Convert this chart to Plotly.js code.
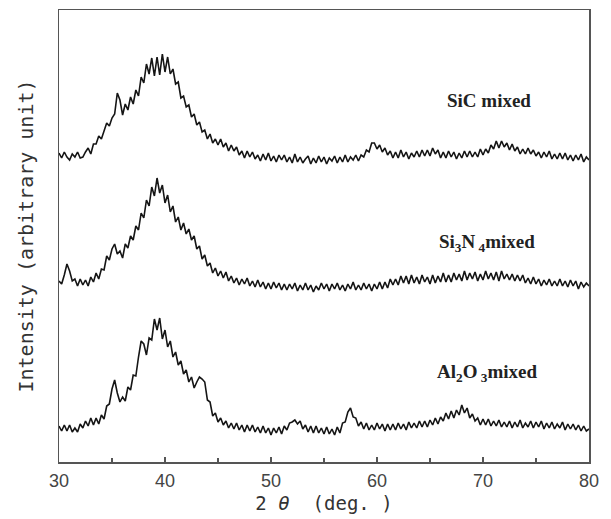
<!DOCTYPE html>
<html>
<head>
<meta charset="utf-8">
<script src="https://cdn.plot.ly/plotly-3.0.1.min.js"></script>
<style>html,body{margin:0;padding:0;background:#fff;}#chart{width:611px;height:519px;}</style>
</head>
<body>
<div id="chart"></div>
<script>
// 2θ positions (deg.)
const twoTheta = [
30,30.25,30.5,30.75,31,31.25,31.5,31.75,32,32.25,32.5,32.75,33,33.25,33.5,33.75,34,34.25,34.5,34.75,
35,35.25,35.5,35.75,36,36.25,36.5,36.75,37,37.25,37.5,37.75,38,38.25,38.5,38.75,39,39.25,39.5,39.75,
40,40.25,40.5,40.75,41,41.25,41.5,41.75,42,42.25,42.5,42.75,43,43.25,43.5,43.75,44,44.25,44.5,44.75,
45,45.25,45.5,45.75,46,46.25,46.5,46.75,47,47.25,47.5,47.75,48,48.25,48.5,48.75,49,49.25,49.5,49.75,
50,50.25,50.5,50.75,51,51.25,51.5,51.75,52,52.25,52.5,52.75,53,53.25,53.5,53.75,54,54.25,54.5,54.75,
55,55.25,55.5,55.75,56,56.25,56.5,56.75,57,57.25,57.5,57.75,58,58.25,58.5,58.75,59,59.25,59.5,59.75,
60,60.25,60.5,60.75,61,61.25,61.5,61.75,62,62.25,62.5,62.75,63,63.25,63.5,63.75,64,64.25,64.5,64.75,
65,65.25,65.5,65.75,66,66.25,66.5,66.75,67,67.25,67.5,67.75,68,68.25,68.5,68.75,69,69.25,69.5,69.75,
70,70.25,70.5,70.75,71,71.25,71.5,71.75,72,72.25,72.5,72.75,73,73.25,73.5,73.75,74,74.25,74.5,74.75,
75,75.25,75.5,75.75,76,76.25,76.5,76.75,77,77.25,77.5,77.75,78,78.25,78.5,78.75,79,79.25,79.5,79.75,
80];

// Intensity (arbitrary unit), curves as stacked in the figure
const sicMixed = [
309,304,310,305,302,308,305,310,304,305,310,314,308,318,318,326,323,331,339,336,
344,348,369,362,347,358,352,365,358,372,366,385,379,398,388,404,386,405,387,408,
390,405,388,393,378,380,364,366,355,357,345,348,337,340,330,332,323,328,319,323,
317,323,315,319,311,317,311,315,307,311,304,311,305,310,303,307,301,308,302,309,
301,306,300,307,302,307,300,305,299,308,300,305,299,303,306,298,304,299,306,300,
305,298,304,301,306,299,305,300,307,300,305,302,307,301,307,305,312,310,319,319,
313,317,310,314,307,311,304,310,304,312,305,310,303,309,305,311,305,312,306,312,
306,314,308,312,304,310,304,311,305,310,303,309,304,311,305,311,305,310,305,313,
307,313,309,317,313,321,314,321,315,319,312,318,311,315,308,313,308,314,308,312,
306,310,304,310,305,311,303,308,303,309,303,309,302,307,301,307,302,308,300,305,
302];

const si3n4Mixed = [
181,178,187,198,191,181,183,176,183,177,182,176,185,180,189,183,193,192,206,202,
213,218,208,211,204,218,214,226,222,236,232,249,244,262,256,275,266,284,269,277,
259,267,250,256,240,245,232,239,228,233,222,226,213,216,203,207,196,199,189,194,
186,191,184,190,181,186,179,184,177,183,178,184,176,181,175,182,175,180,173,179,
173,180,174,179,172,178,172,178,173,179,171,177,172,179,172,177,170,176,172,179,
173,178,171,178,173,179,172,177,171,178,173,180,172,177,172,179,173,178,171,178,
173,180,173,180,174,183,177,183,177,186,179,186,178,187,179,185,178,187,180,185,
178,187,179,186,180,189,180,187,180,189,182,188,181,191,182,189,183,190,181,188,
182,191,183,189,182,190,181,191,183,188,182,188,181,187,181,187,179,184,178,185,
178,183,176,182,177,183,176,181,176,183,176,181,175,182,176,181,173,180,175,179,
176];

const al2o3Mixed = [
36,31,37,31,37,30,34,30,38,34,41,36,44,37,44,38,47,43,56,58,
73,82,69,60,65,61,75,72,87,86,105,121,118,107,124,122,143,132,144,123,
132,115,121,105,110,97,101,88,92,80,85,74,80,85,83,80,62,60,46,49,
40,44,37,41,34,39,33,39,32,37,30,37,31,37,30,35,29,36,29,34,
27,34,29,35,28,36,32,39,40,42,38,41,33,37,30,36,29,36,29,34,
28,35,28,33,27,35,29,39,40,50,54,45,44,36,40,33,39,32,37,32,
39,33,38,31,38,32,38,32,39,33,38,32,40,34,39,34,41,35,41,35,
42,37,44,38,45,41,49,43,51,44,52,47,57,49,54,44,48,41,44,37,
43,37,43,36,41,36,42,35,40,35,41,34,40,35,42,34,39,35,41,34,
40,35,41,33,39,34,40,33,38,34,40,32,38,33,38,32,37,31,36,31,
33];

const xTickVals = [30, 40, 50, 60, 70, 80];
const xTickText = ['30', '40', '50', '60', '70', '80'];
const curveLabels = ['SiC mixed', 'Si<sub>3</sub>N<sub> 4</sub>mixed', 'Al<sub>2</sub>O<sub> 3</sub>mixed'];

const lineStyle = {color: '#151515', width: 1.6};
const traces = [
  {x: twoTheta, y: sicMixed, type: 'scatter', mode: 'lines', line: lineStyle, name: 'SiC mixed'},
  {x: twoTheta, y: si3n4Mixed, type: 'scatter', mode: 'lines', line: lineStyle, name: 'Si3N4 mixed'},
  {x: twoTheta, y: al2o3Mixed, type: 'scatter', mode: 'lines', line: lineStyle, name: 'Al2O3 mixed'}
];

const labelFont = {family: 'Liberation Serif, serif', size: 19, color: '#222222', weight: 'bold'};
const layout = {
  width: 611, height: 519,
  margin: {l: 59, r: 22, t: 10, b: 57},
  paper_bgcolor: '#ffffff', plot_bgcolor: '#ffffff',
  showlegend: false,
  xaxis: {
    range: [30, 80], showgrid: false, zeroline: false,
    showline: true, mirror: true, linecolor: '#555555', linewidth: 1.5,
    tickmode: 'array', tickvals: xTickVals, ticktext: xTickText,
    ticks: 'inside', ticklen: 5, tickwidth: 1.2, tickcolor: '#555555',
    minor: {dtick: 5, tick0: 30, ticks: 'inside', ticklen: 4, tickcolor: '#555555', showgrid: false},
    ticklabelstandoff: 2,
    tickfont: {family: 'Liberation Sans, Arial, sans-serif', size: 18, color: '#444444'},
    title: {text: '2\u00a0<i>\u03b8</i>\u00a0\u00a0(deg.\u00a0)', standoff: 6,
      font: {family: 'DejaVu Sans Mono, monospace', size: 19, color: '#333333'}}
  },
  yaxis: {
    range: [0, 452], showgrid: false, zeroline: false,
    showline: true, mirror: true, linecolor: '#555555', linewidth: 1.5,
    ticks: '', showticklabels: false,
    title: {text: 'Intensity (arbitrary unit)', standoff: 18,
      font: {family: 'DejaVu Sans Mono, monospace', size: 20, color: '#333333'}}
  },
  annotations: [
    {x: 70.6, y: 362, xref: 'x', yref: 'y', text: curveLabels[0], showarrow: false, font: labelFont},
    {x: 70.4, y: 219, xref: 'x', yref: 'y', text: curveLabels[1], showarrow: false, font: labelFont},
    {x: 70.4, y: 89, xref: 'x', yref: 'y', text: curveLabels[2], showarrow: false, font: labelFont}
  ]
};

Plotly.newPlot('chart', traces, layout, {staticPlot: true, displayModeBar: false});
</script>
</body>
</html>
